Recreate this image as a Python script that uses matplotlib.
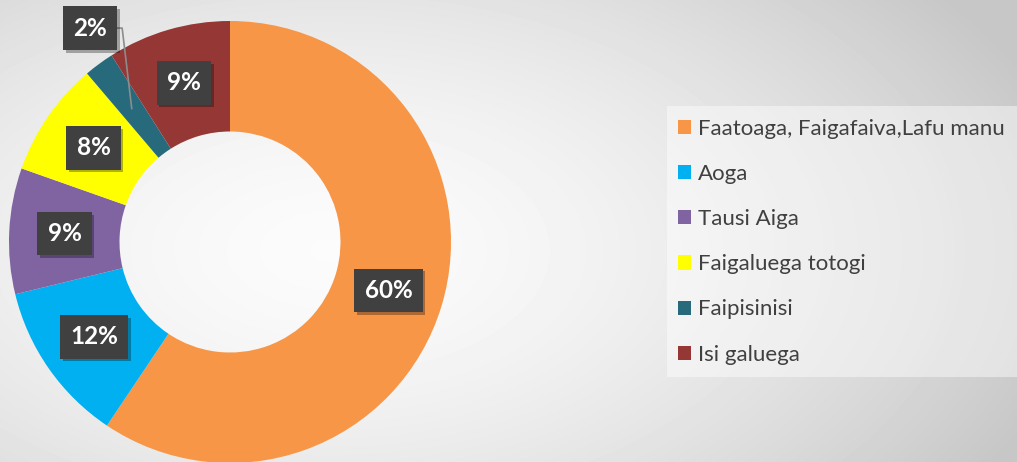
import numpy as np
import matplotlib
matplotlib.use('Agg')
import matplotlib.pyplot as plt
import matplotlib.patheffects as pe
from matplotlib.patches import Rectangle

categories = ['Faatoaga, Faigafaiva,Lafu manu', 'Aoga', 'Tausi Aiga',
              'Faigaluega totogi', 'Faipisinisi', 'Isi galuega']
values = [59.4, 11.8, 9.2, 8.4, 2.2, 9.0]
pct_labels = ['60%', '12%', '9%', '8%', '2%', '9%']
colors = ['#F79646', '#00B0F0', '#8064A2', '#FFFF00', '#276A7C', '#953735']

plt.rcParams['font.family'] = ['Lato', 'DejaVu Sans']

W, H = 1017, 462
fig = plt.figure(figsize=(W / 100, H / 100), dpi=100)

# background gradient
bg = fig.add_axes([0, 0, 1, 1])
bg.axis('off')
yy, xx = np.mgrid[0:H, 0:W]
d = np.sqrt(((xx - 330) / 750.0) ** 2 + ((yy - 250) / 420.0) ** 2)
shade = np.clip(0.985 - 0.2 * d ** 1.6, 0.78, 1.0)
bg.imshow(shade, cmap='gray', vmin=0, vmax=1, extent=[0, 1, 0, 1],
          aspect='auto', interpolation='bilinear')
bg.set_xlim(0, 1)
bg.set_ylim(0, 1)

# legend panel
bg.add_patch(Rectangle((667 / W, 1 - 377 / H), 360 / W, 271 / H,
                       facecolor='white', alpha=0.45, edgecolor='none'))

# donut
cx, cy, R = 230, 242, 221
ax = fig.add_axes([(cx - R) / W, (H - cy - R) / H, 2 * R / W, 2 * R / H])
ax.patch.set_alpha(0)
wedges, _ = ax.pie(values, colors=colors, startangle=90, counterclock=False,
                   radius=1, wedgeprops=dict(width=0.5, edgecolor='none'))
ax.set_xlim(-1, 1)
ax.set_ylim(-1, 1)
ax.axis('off')

box = dict(boxstyle='square,pad=0.42', facecolor='#404040', edgecolor='none')
shadow = [pe.withSimplePatchShadow(offset=(2, -2), shadow_rgbFace='black', alpha=0.3)]

for w, lab in zip(wedges, pct_labels):
    mid = np.deg2rad((w.theta1 + w.theta2) / 2)
    px, py = 0.75 * np.cos(mid), 0.75 * np.sin(mid)
    if lab == '2%':
        lx, ly = -0.633, 0.968
        ax.plot([lx + 0.1, lx + 0.145, px], [ly, ly, py], color='#8c8c8c', lw=1.2, zorder=3)
    else:
        lx, ly = px, py
    t = ax.text(lx, ly, lab, ha='center', va='center', color='white',
                fontsize=17.5, fontweight='bold', bbox=box, zorder=5)
    t.get_bbox_patch().set_path_effects(shadow)

leg = fig.legend(wedges, categories, loc='upper left',
                 bbox_to_anchor=(658 / W, 1 - 99 / H), frameon=False,
                 fontsize=16, labelcolor='#404040', handlelength=0.6,
                 handleheight=0.6, handletextpad=0.3, labelspacing=1.13)

fig.savefig('out.png', dpi=100)
